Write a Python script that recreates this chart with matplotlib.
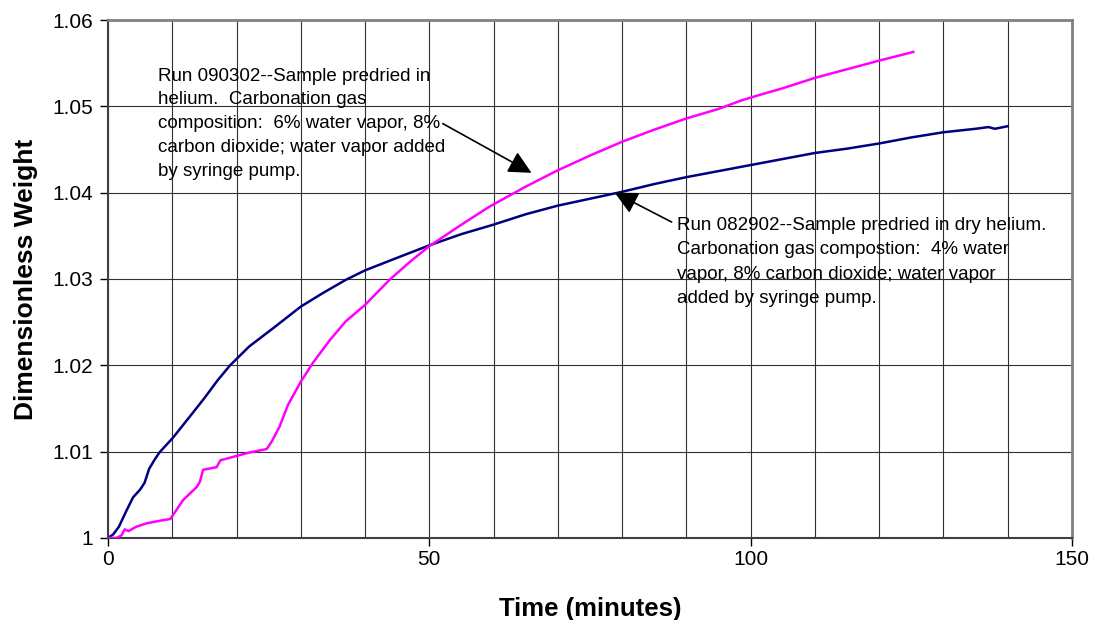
#!/usr/bin/env python3
"""Dimensionless weight vs time for two carbonation runs."""

import matplotlib

matplotlib.use("Agg")
import matplotlib.pyplot as plt
from matplotlib.ticker import FuncFormatter, MultipleLocator

plt.rcParams["font.family"] = ["Liberation Sans", "DejaVu Sans"]

# Run 082902 (navy)
run_082902_t = [0, 0.8, 1.7, 2.9, 3.9, 5.0, 5.7, 6.4, 7.2, 8.0, 10.1, 13.2, 15, 17.1,
                19, 22, 25.7, 30, 33.5, 37, 40, 44.8, 50, 55, 60, 65, 70, 75, 80, 85,
                90, 95, 100, 105, 110, 115, 120, 125, 130, 135, 137, 138, 140]
run_082902_w = [1.0, 1.0004, 1.0013, 1.0032, 1.0047, 1.0056, 1.0064, 1.0080, 1.0090,
                1.0099, 1.0116, 1.0145, 1.0162, 1.0183, 1.0200, 1.0222, 1.0243, 1.0268,
                1.0284, 1.0299, 1.0310, 1.0324, 1.0339, 1.0352, 1.0363, 1.0375, 1.0385,
                1.0393, 1.0401, 1.0410, 1.0418, 1.0425, 1.0432, 1.0439, 1.0446, 1.0451,
                1.0457, 1.0464, 1.0470, 1.0474, 1.0476, 1.0474, 1.0477]

# Run 090302 (magenta)
run_090302_t = [0, 1.3, 2.1, 2.6, 3.2, 4.4, 6.0, 8.1, 9.7, 11.7, 13.8, 14.3, 14.8, 16.9,
                17.5, 20, 22, 24.7, 25.5, 26.7, 28, 30, 31.9, 34.5, 37, 40, 43.8, 47, 50,
                55, 59.4, 65, 70, 75, 80, 85, 90, 95, 98.6, 101.3, 105, 110, 115, 120,
                125.3]
run_090302_w = [1.0, 1.0, 1.0003, 1.0010, 1.0008, 1.0013, 1.0017, 1.0020, 1.0022, 1.0044,
                1.0059, 1.0065, 1.0079, 1.0082, 1.0090, 1.0095, 1.0099, 1.0103, 1.0112,
                1.0129, 1.0154, 1.0181, 1.0203, 1.0229, 1.0251, 1.0270, 1.0299, 1.0320,
                1.0338, 1.0363, 1.0384, 1.0407, 1.0426, 1.0443, 1.0459, 1.0473, 1.0486,
                1.0497, 1.0507, 1.0513, 1.0521, 1.0533, 1.0543, 1.0553, 1.0563]

note_090302 = ("Run 090302--Sample predried in\n"
               "helium.  Carbonation gas\n"
               "composition:  6% water vapor, 8%\n"
               "carbon dioxide; water vapor added\n"
               "by syringe pump.")
note_082902 = ("Run 082902--Sample predried in dry helium.\n"
               "Carbonation gas compostion:  4% water\n"
               "vapor, 8% carbon dioxide; water vapor\n"
               "added by syringe pump.")


def main() -> None:
    fig = plt.figure(figsize=(10.95, 6.2), dpi=100)
    ax = fig.add_axes([0.0986, 0.1323, 0.8804, 0.8354])

    ax.plot(run_082902_t, run_082902_w, color="#000080", lw=1.8, zorder=3)
    ax.plot(run_090302_t, run_090302_w, color="#ff00ff", lw=1.8, zorder=3)

    ax.set_xlim(0, 150)
    ax.set_ylim(1.0, 1.06)
    ax.xaxis.set_major_locator(MultipleLocator(50))
    ax.xaxis.set_minor_locator(MultipleLocator(10))
    ax.yaxis.set_major_locator(MultipleLocator(0.01))
    ax.yaxis.set_major_formatter(FuncFormatter(lambda v, _: f"{v:g}"))

    ax.grid(True, which="both", axis="x", color="#303030", lw=0.8)
    ax.grid(True, which="major", axis="y", color="#303030", lw=0.8)
    ax.set_axisbelow(True)

    ax.tick_params(axis="both", which="major", direction="out", length=6,
                   width=1, labelsize=15, pad=5)
    ax.tick_params(axis="x", which="minor", length=0)
    ax.tick_params(axis="x", which="major", pad=3)

    for side in ("left", "bottom"):
        ax.spines[side].set_color("#404040")
        ax.spines[side].set_linewidth(1.5)
    for side in ("top", "right"):
        ax.spines[side].set_color("#808080")
        ax.spines[side].set_linewidth(2)

    ax.set_xlabel("Time (minutes)", fontsize=18.5, fontweight="bold", labelpad=20)
    ax.set_ylabel("Dimensionless Weight", fontsize=19, fontweight="bold", labelpad=10)

    ax.text(7.8, 1.0545, note_090302, fontsize=13.5, va="top", ha="left",
            linespacing=1.52, zorder=4)
    ax.text(88.5, 1.0372, note_082902, fontsize=13.5, va="top", ha="left",
            linespacing=1.58, zorder=4)

    arrow = dict(arrowstyle="-|>,head_length=1.4,head_width=0.7", color="black",
                 lw=1.2, shrinkA=0, shrinkB=0)
    ax.annotate("", xy=(65.9, 1.0423), xytext=(52.1, 1.0480), arrowprops=arrow, zorder=5)
    ax.annotate("", xy=(78.85, 1.0400), xytext=(87.7, 1.0366), arrowprops=arrow, zorder=5)

    fig.savefig("out.png", dpi=100)


if __name__ == "__main__":
    main()
